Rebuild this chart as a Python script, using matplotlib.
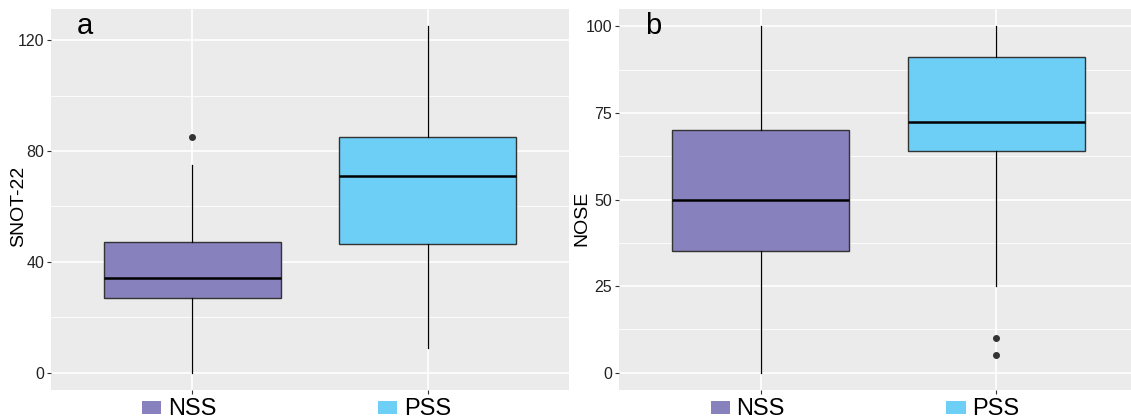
import matplotlib
matplotlib.use("Agg")
import matplotlib.pyplot as plt
from matplotlib.patches import Rectangle

plt.rcParams['font.family'] = ['Liberation Sans', 'DejaVu Sans']

groups = ["NSS", "PSS"]
colors = ["#8781BD", "#6DCFF6"]

# Panel a: SNOT-22
snot_q1 = [27, 46.5]
snot_med = [34, 71]
snot_q3 = [47, 85]
snot_lo = [0, 9]
snot_hi = [75, 125]
snot_fliers = [[85], []]

# Panel b: NOSE
nose_q1 = [35, 64]
nose_med = [50, 72.5]
nose_q3 = [70, 91]
nose_lo = [0, 25]
nose_hi = [100, 100]
nose_fliers = [[], [10, 5]]

W, H = 1131, 418
fig = plt.figure(figsize=(W / 100, H / 100), dpi=100)

def make_ax(left_px, right_px, top_px, bottom_px):
    return fig.add_axes([left_px / W, 1 - bottom_px / H,
                         (right_px - left_px) / W, (bottom_px - top_px) / H])

ax1 = make_ax(51, 569, 9, 390)
ax2 = make_ax(619, 1138, 9, 390)

def draw(ax, q1, med, q3, lo, hi, fliers, yticks, yminor, ylim, ylabel, panel,
         label_xy):
    ax.set_facecolor("#EBEBEB")
    stats = []
    for i in range(len(groups)):
        stats.append(dict(med=med[i], q1=q1[i], q3=q3[i], whislo=lo[i],
                          whishi=hi[i], fliers=fliers[i], label=groups[i]))
    pos = list(range(1, len(groups) + 1))
    bp = ax.bxp(stats, positions=pos, widths=0.75, patch_artist=True,
                showcaps=False,
                boxprops=dict(edgecolor="#333333", linewidth=1.0),
                medianprops=dict(color="black", linewidth=1.8),
                whiskerprops=dict(color="black", linewidth=0.9),
                flierprops=dict(marker="o", markersize=4,
                                markerfacecolor="#333333",
                                markeredgecolor="#333333"))
    for patch, c in zip(bp["boxes"], colors):
        patch.set_facecolor(c)
    for art in bp["boxes"] + bp["medians"] + bp["whiskers"] + bp["fliers"]:
        art.set_zorder(3)
    ax.set_xlim(0.4, 2.6)
    ax.set_ylim(*ylim)
    ax.set_yticks(yticks)
    ax.set_yticks(yminor, minor=True)
    ax.set_xticks(pos)
    ax.set_xticklabels([])
    ax.grid(True, which="major", color="white", linewidth=1.2, zorder=0)
    ax.grid(True, which="minor", axis="y", color="white", linewidth=0.6, zorder=0)
    ax.set_axisbelow(True)
    for s in ax.spines.values():
        s.set_visible(False)
    ax.tick_params(axis="both", which="major", length=3, width=0.8,
                   color="#333333", labelsize=11.5, labelcolor="#222222", pad=2)
    ax.tick_params(axis="both", which="minor", length=0)
    ax.set_ylabel(ylabel, fontsize=14, color="black")
    ax.yaxis.set_label_coords(*label_xy)
    ax.text(0.05, 0.934, panel, transform=ax.transAxes, fontsize=21,
            va="baseline", ha="left")
    tr = ax.get_xaxis_transform()
    for p, g, c in zip(pos, groups, colors):
        ax.add_patch(Rectangle((p - 0.212, -0.063), 0.081, 0.034,
                               transform=tr, facecolor=c, edgecolor="none",
                               clip_on=False))
        ax.text(p - 0.102, -0.066, g, transform=tr, fontsize=17,
                ha="left", va="baseline", clip_on=False)

draw(ax1, snot_q1, snot_med, snot_q3, snot_lo, snot_hi, snot_fliers,
     [0, 40, 80, 120], [20, 60, 100], (-6.25, 131.25), "SNOT-22", "a",
     (-0.046, 0.483))
draw(ax2, nose_q1, nose_med, nose_q3, nose_lo, nose_hi, nose_fliers,
     [0, 25, 50, 75, 100], [12.5, 37.5, 62.5, 87.5], (-5, 105), "NOSE", "b",
     (-0.056, 0.45))

fig.savefig("out.png", dpi=100)
